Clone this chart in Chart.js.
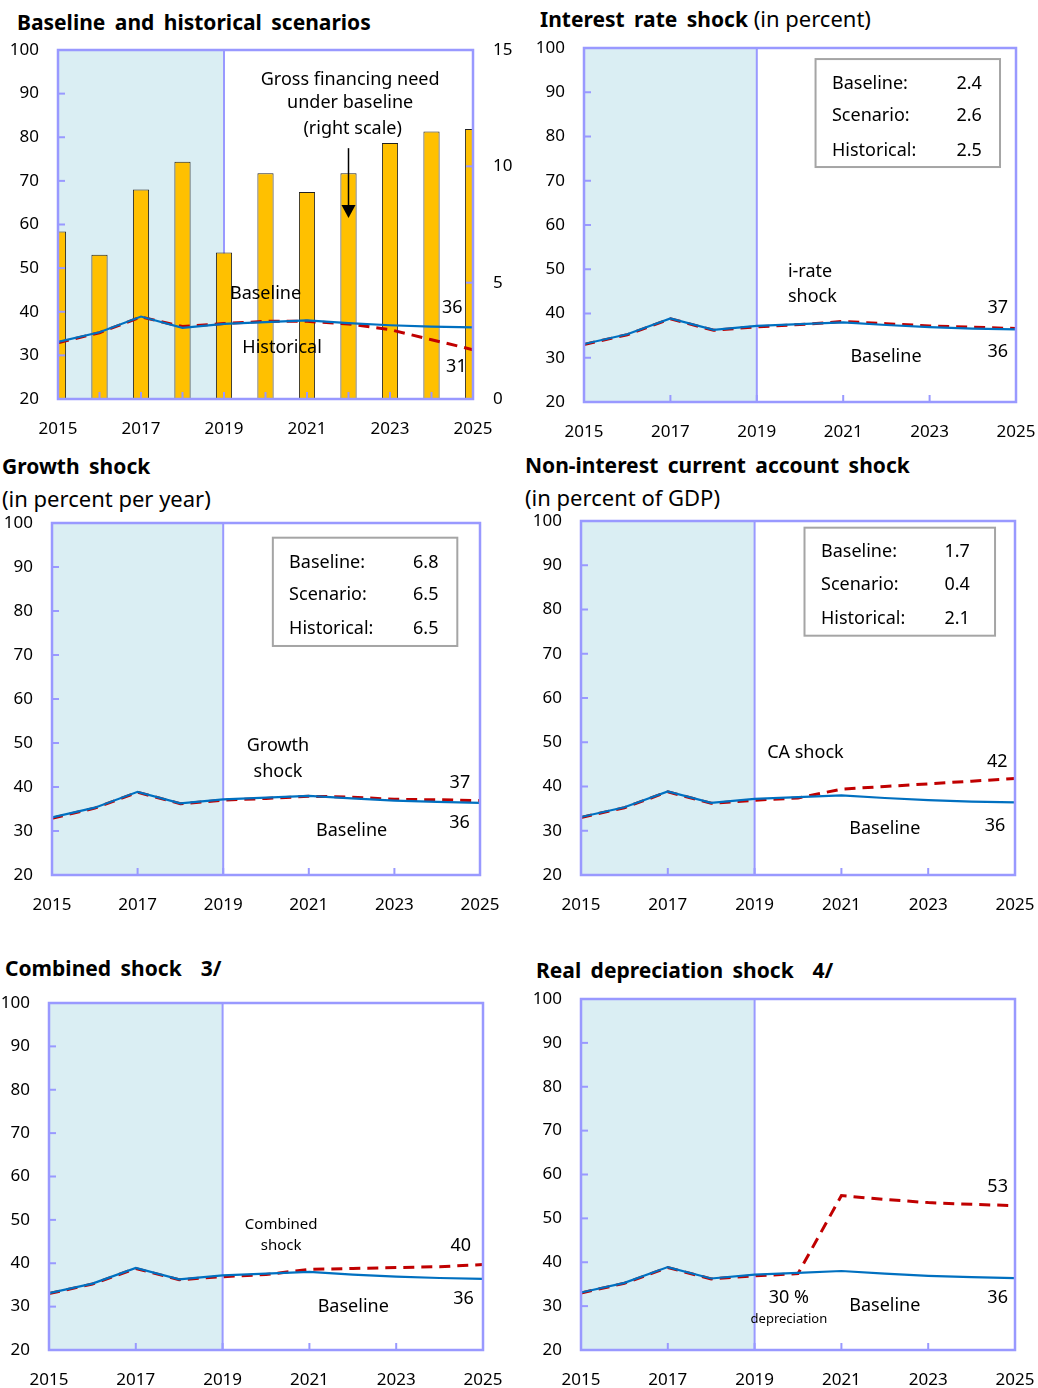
<!DOCTYPE html>
<html><head><meta charset="utf-8">
<script src="https://cdn.jsdelivr.net/npm/chart.js@4.4.1/dist/chart.umd.min.js"></script>
<style>
html,body{margin:0;padding:0;background:#fff}
body{width:1038px;height:1388px;position:relative;overflow:hidden;font-family:"Noto Sans",sans-serif}
.t{position:absolute;white-space:pre;line-height:1;color:#000;font-size:22px}
.b{font-weight:bold;word-spacing:4px;font-size:21px}
.n{font-weight:normal;word-spacing:0;font-size:22px}
canvas{position:absolute}
</style></head><body>
<div class="t b" style="left:17px;top:12px">Baseline and historical scenarios</div>
<div class="t" style="left:540px;top:7px"><span class="b">Interest rate shock</span><span class="n"> (in percent)</span></div>
<div class="t b" style="left:2px;top:456px">Growth shock</div>
<div class="t" style="left:2px;top:487px">(in percent per year)</div>
<div class="t b" style="left:525px;top:455px">Non-interest current account shock</div>
<div class="t" style="left:525px;top:486px">(in percent of GDP)</div>
<div class="t b" style="left:5px;top:958px">Combined shock  3/</div>
<div class="t b" style="left:536px;top:960px">Real depreciation shock  4/</div>

<canvas id="c1" width="520" height="432" style="left:0px;top:18px"></canvas>
<canvas id="c2" width="540" height="434" style="left:520px;top:16px"></canvas>
<canvas id="c3" width="524" height="429" style="left:0px;top:491px"></canvas>
<canvas id="c4" width="539" height="431" style="left:520px;top:489px"></canvas>
<canvas id="c5" width="527" height="417" style="left:0px;top:971px"></canvas>
<canvas id="c6" width="539" height="421" style="left:520px;top:967px"></canvas>

<script>
// ---------------- DATA ----------------
const years = [2015, 2016, 2017, 2018, 2019, 2020, 2021, 2022, 2023, 2024, 2025];
const historicalEnd = 2019;
const xTickLabels = [2015, 2017, 2019, 2021, 2023, 2025];
const yTicksLeft = [20, 30, 40, 50, 60, 70, 80, 90, 100];
const yTicksRight = [0, 5, 10, 15];

// Gross financing need under baseline (right scale)
const gfnBaseline = [7.2, 6.2, 9.0, 10.2, 6.3, 9.7, 8.9, 9.7, 11.0, 11.5, 11.6];
// Debt paths (left scale)
const debtBaseline = [33.1, 35.3, 38.9, 36.3, 37.2, 37.6, 38.0, 37.4, 36.9, 36.6, 36.4];
const debtHistorical = [32.9, 35.2, 38.8, 36.6, 37.3, 37.8, 37.8, 37.2, 35.9, 33.6, 31.3];
const debtIrateShock = [33.0, 35.2, 38.8, 36.2, 37.0, 37.5, 38.2, 37.7, 37.2, 36.9, 36.6];
const debtGrowthShock = [32.9, 35.2, 38.8, 36.2, 37.0, 37.4, 37.9, 37.7, 37.2, 37.1, 36.9];
const debtCAShock = [33.0, 35.2, 38.8, 36.2, 36.9, 37.4, 39.4, 40.0, 40.6, 41.2, 41.8];
const debtCombinedShock = [33.0, 35.2, 38.8, 36.2, 36.9, 37.4, 38.6, 38.8, 39.0, 39.2, 39.7];
const debtDepreciationShock = [33.0, 35.2, 38.8, 36.2, 36.9, 37.4, 55.2, 54.3, 53.6, 53.2, 52.9];

// Legend tables
const legendLabels = ['Baseline:', 'Scenario:', 'Historical:'];
const legendIrate = ['2.4', '2.6', '2.5'];
const legendGrowth = ['6.8', '6.5', '6.5'];
const legendCA = ['1.7', '0.4', '2.1'];

// ---------------- STYLE ----------------
const FONT = '"Noto Sans", sans-serif';
const SHADE = '#daeef3';
const FRAME = '#9999ff';
const BLUE = '#0070c0';
const RED = '#c00000';
const BAR = '#ffc000';
const BOXC = '#a5a5a5';

const panelPlugin = {
  id: 'panel',
  beforeDatasetsDraw(chart, args, o) {
    const {ctx, chartArea: a, scales: {x}} = chart;
    ctx.save();
    const xs = x.getPixelForValue(years[0]), xe = x.getPixelForValue(historicalEnd);
    ctx.fillStyle = SHADE;
    ctx.fillRect(xs, a.top, xe - xs, a.bottom - a.top);
    ctx.strokeStyle = FRAME; ctx.lineWidth = 2;
    ctx.beginPath(); ctx.moveTo(xe, a.top); ctx.lineTo(xe, a.bottom); ctx.stroke();
    ctx.restore();
  },
  afterDatasetsDraw(chart, args, o) {
    const {ctx, chartArea: a, scales} = chart;
    const x = scales.x, y = scales.y;
    ctx.save();
    ctx.strokeStyle = FRAME; ctx.lineWidth = 2;
    yTicksLeft.forEach(v => { const py = y.getPixelForValue(v); ctx.beginPath(); ctx.moveTo(a.left, py); ctx.lineTo(a.left + 7, py); ctx.stroke(); });
    if (scales.y2) yTicksRight.forEach(v => { const py = scales.y2.getPixelForValue(v); ctx.beginPath(); ctx.moveTo(a.right, py); ctx.lineTo(a.right - 7, py); ctx.stroke(); });
    (o.xMarks || xTickLabels).forEach(v => { const px = x.getPixelForValue(v); ctx.beginPath(); ctx.moveTo(px, a.bottom); ctx.lineTo(px, a.bottom - 7); ctx.stroke(); });
    ctx.lineWidth = 2.5;
    ctx.strokeRect(a.left, a.top, a.right - a.left, a.bottom - a.top);
    if (o.legend) {
      const L = o.legend;
      const x1 = x.getPixelForValue(L.box[0]), y1 = y.getPixelForValue(L.box[1]);
      const x2 = x.getPixelForValue(L.box[2]), y2 = y.getPixelForValue(L.box[3]);
      ctx.fillStyle = '#fff'; ctx.fillRect(x1, y1, x2 - x1, y2 - y1);
      ctx.strokeStyle = BOXC; ctx.lineWidth = 2; ctx.strokeRect(x1, y1, x2 - x1, y2 - y1);
      ctx.fillStyle = '#000'; ctx.font = '18px ' + FONT; ctx.textBaseline = 'middle';
      legendLabels.forEach((lab, i) => {
        const py = y.getPixelForValue(L.rows[i]);
        ctx.textAlign = 'left'; ctx.fillText(lab, x.getPixelForValue(L.labelX), py);
        ctx.textAlign = 'right'; ctx.fillText(L.values[i], x.getPixelForValue(L.valueX), py);
      });
    }
    ctx.fillStyle = '#000'; ctx.textBaseline = 'middle';
    (o.notes || []).forEach(n => {
      ctx.font = (n.size || 18) + 'px ' + FONT;
      ctx.textAlign = n.align || 'center';
      ctx.fillText(n.t, x.getPixelForValue(n.x), y.getPixelForValue(n.y));
    });
    if (o.arrow) {
      const ar = o.arrow;
      const px = x.getPixelForValue(ar.x), p1 = y.getPixelForValue(ar.y1), p2 = y.getPixelForValue(ar.y2);
      ctx.strokeStyle = '#000'; ctx.lineWidth = 1.5;
      ctx.beginPath(); ctx.moveTo(px, p1); ctx.lineTo(px, p2 - 10); ctx.stroke();
      ctx.fillStyle = '#000';
      ctx.beginPath(); ctx.moveTo(px - 7, p2 - 13); ctx.lineTo(px + 7, p2 - 13); ctx.lineTo(px, p2); ctx.closePath(); ctx.fill();
    }
    ctx.restore();
  }
};

function lineDs(values, kind) {
  const red = kind === 'shock';
  return {
    type: 'line',
    data: years.map((yr, i) => ({x: yr, y: values[i]})),
    yAxisID: 'y',
    borderColor: red ? RED : BLUE,
    borderWidth: red ? 3 : 2.2,
    borderDash: red ? [11, 7] : [],
    pointRadius: 0,
    tension: 0,
    fill: false,
    order: red ? 2 : 1
  };
}

function buildPanel(p) {
  const datasets = [];
  if (p.bars) datasets.push({
    type: 'bar',
    data: years.map((yr, i) => ({x: yr, y: p.bars[i]})),
    yAxisID: 'y2',
    backgroundColor: BAR,
    borderColor: '#222',
    borderWidth: 1,
    barPercentage: 0.39,
    categoryPercentage: 1,
    clip: 0,
    order: 3
  });
  datasets.push(lineDs(p.shock, 'shock'));
  datasets.push(lineDs(debtBaseline, 'base'));
  const tickFont = {family: FONT, size: 17};
  const scales = {
    x: {
      type: 'linear', min: years[0], max: years[years.length - 1], offset: false,
      afterBuildTicks: s => { s.ticks = xTickLabels.map(v => ({value: v})); },
      afterFit: s => { s.height = p.xH; },
      grid: {display: false, drawTicks: false}, border: {display: false},
      ticks: {callback: v => String(v), color: '#000', font: tickFont, padding: 20, maxRotation: 0, autoSkip: false}
    },
    y: {
      type: 'linear', position: 'left', min: 20, max: 100,
      afterBuildTicks: s => { s.ticks = yTicksLeft.map(v => ({value: v})); },
      afterFit: s => { s.width = p.yW; },
      grid: {display: false, drawTicks: false}, border: {display: false},
      ticks: {callback: v => String(v), color: '#000', font: tickFont, padding: 19}
    }
  };
  if (p.bars) scales.y2 = {
    type: 'linear', position: 'right', min: 0, max: 15,
    afterBuildTicks: s => { s.ticks = yTicksRight.map(v => ({value: v})); },
    afterFit: s => { s.width = p.rightW; },
    grid: {display: false, drawTicks: false}, border: {display: false},
    ticks: {callback: v => String(v), color: '#000', font: tickFont, padding: 20}
  };
  new Chart(document.getElementById(p.id), {
    type: 'line',
    data: {datasets},
    options: {
      responsive: false, animation: false, devicePixelRatio: 1,
      layout: {padding: {left: 0, top: 32, right: p.padRight || 0, bottom: 0}},
      plugins: {legend: {display: false}, tooltip: {enabled: false}, title: {display: false},
        panel: {legend: p.legend, notes: p.notes, arrow: p.arrow, xMarks: p.xMarks}},
      scales
    },
    plugins: [panelPlugin]
  });
}

buildPanel({
  id: 'c1', yW: 58, rightW: 47, xH: 51,
  bars: gfnBaseline, shock: debtHistorical, xMarks: years,
  notes: [
    {t: 'Gross financing need', x: 2022.04, y: 93.1},
    {t: 'under baseline', x: 2022.04, y: 87.85},
    {t: '(right scale)', x: 2022.1, y: 81.9},
    {t: 'Baseline', x: 2020.0, y: 44.1},
    {t: 'Historical', x: 2020.4, y: 31.7},
    {t: '36', x: 2024.5, y: 40.9},
    {t: '31', x: 2024.6, y: 27.3}
  ],
  arrow: {x: 2022, y1: 77.5, y2: 61.5}
});

buildPanel({
  id: 'c2', yW: 64, padRight: 44, xH: 48,
  shock: debtIrateShock,
  legend: {box: [2020.36, 97.5, 2024.63, 73.1], labelX: 2020.74, valueX: 2024.21, rows: [91.9, 84.6, 76.8], values: legendIrate},
  notes: [
    {t: 'i-rate', x: 2019.72, y: 49.4, align: 'left'},
    {t: 'shock', x: 2019.72, y: 43.7, align: 'left'},
    {t: '37', x: 2024.58, y: 41.2},
    {t: 'Baseline', x: 2021.99, y: 30.2},
    {t: '36', x: 2024.58, y: 31.3}
  ]
});

buildPanel({
  id: 'c3', yW: 52, padRight: 44, xH: 45,
  shock: debtGrowthShock,
  legend: {box: [2020.16, 96.66, 2024.47, 72.05], labelX: 2020.54, valueX: 2024.03, rows: [91.0, 83.6, 75.9], values: legendGrowth},
  notes: [
    {t: 'Growth', x: 2020.28, y: 49.39},
    {t: 'shock', x: 2020.28, y: 43.48},
    {t: '37', x: 2024.53, y: 40.84},
    {t: 'Baseline', x: 2022.0, y: 30.07},
    {t: '36', x: 2024.52, y: 31.75}
  ]
});

buildPanel({
  id: 'c4', yW: 61, padRight: 44, xH: 45,
  shock: debtCAShock,
  legend: {box: [2020.15, 98.49, 2024.54, 74.08], labelX: 2020.53, valueX: 2023.96, rows: [93.06, 85.5, 77.85], values: legendCA},
  notes: [
    {t: 'CA shock', x: 2019.29, y: 47.5, align: 'left'},
    {t: '42', x: 2024.59, y: 45.6},
    {t: 'Baseline', x: 2022.0, y: 30.33},
    {t: '36', x: 2024.54, y: 31.07}
  ]
});

buildPanel({
  id: 'c5', yW: 49, padRight: 44, xH: 38,
  shock: debtCombinedShock,
  notes: [
    {t: 'Combined', x: 2020.35, y: 48.98, size: 15},
    {t: 'shock', x: 2020.35, y: 44.05, size: 15},
    {t: '40', x: 2024.49, y: 43.98},
    {t: 'Baseline', x: 2022.01, y: 29.98},
    {t: '36', x: 2024.55, y: 31.69}
  ]
});

buildPanel({
  id: 'c6', yW: 61, padRight: 44, xH: 38,
  shock: debtDepreciationShock,
  notes: [
    {t: '53', x: 2024.6, y: 57.08},
    {t: '30 %', x: 2019.79, y: 31.92},
    {t: 'depreciation', x: 2019.79, y: 27.07, size: 13},
    {t: 'Baseline', x: 2022.0, y: 30.03},
    {t: '36', x: 2024.6, y: 31.78}
  ]
});
</script>
</body></html>
